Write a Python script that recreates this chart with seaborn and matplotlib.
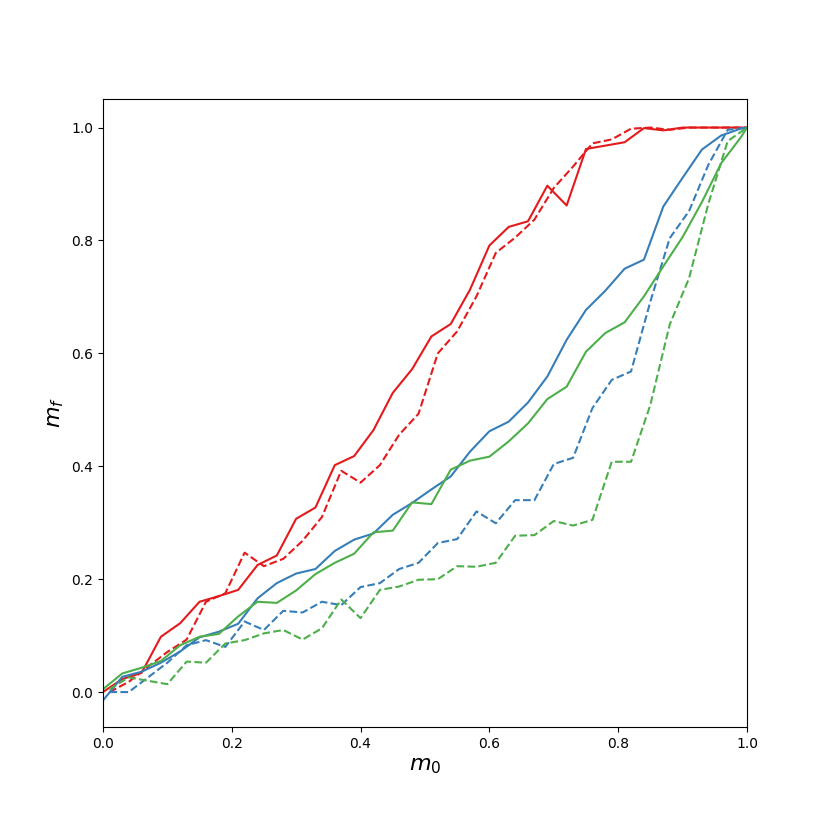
import matplotlib
matplotlib.use("Agg")
import matplotlib.pyplot as plt
import seaborn as sb

# solid curves are sampled at m0 = 0.00, 0.03, ..., 0.99, 1.00
m0_solid = [round(0.03 * i, 2) for i in range(34)] + [1.0]
# dashed curves are sampled at m0 = 0.01, 0.04, ..., 1.00
m0_dashed = [round(0.01 + 0.03 * i, 2) for i in range(34)]

red_solid = [0.000, 0.023, 0.034, 0.098, 0.122, 0.160, 0.170, 0.181, 0.225, 0.242,
             0.307, 0.327, 0.402, 0.418, 0.464, 0.530, 0.572, 0.630, 0.652, 0.713,
             0.791, 0.824, 0.834, 0.897, 0.862, 0.962, 0.968, 0.974, 0.999, 0.995,
             1.000, 1.000, 1.000, 1.000, 1.000]
blue_solid = [-0.015, 0.027, 0.036, 0.052, 0.072, 0.097, 0.107, 0.121, 0.166, 0.193,
              0.210, 0.218, 0.250, 0.270, 0.281, 0.314, 0.335, 0.359, 0.382, 0.426,
              0.462, 0.479, 0.513, 0.559, 0.624, 0.677, 0.711, 0.750, 0.766, 0.860,
              0.911, 0.961, 0.986, 0.998, 1.000]
green_solid = [0.005, 0.033, 0.043, 0.055, 0.083, 0.098, 0.103, 0.134, 0.160, 0.158,
               0.180, 0.209, 0.229, 0.245, 0.283, 0.286, 0.336, 0.333, 0.394, 0.410,
               0.417, 0.444, 0.476, 0.519, 0.541, 0.603, 0.636, 0.655, 0.701, 0.754,
               0.806, 0.868, 0.937, 0.982, 1.000]

red_dashed = [0.000, 0.018, 0.045, 0.071, 0.093, 0.160, 0.175, 0.247, 0.223, 0.236,
              0.268, 0.310, 0.392, 0.371, 0.402, 0.456, 0.493, 0.600, 0.639, 0.701,
              0.778, 0.805, 0.837, 0.893, 0.931, 0.972, 0.979, 0.998, 1.000, 0.996,
              1.000, 1.000, 1.000, 1.000]
blue_dashed = [0.000, 0.000, 0.026, 0.052, 0.083, 0.092, 0.080, 0.125, 0.110, 0.144,
               0.141, 0.160, 0.154, 0.186, 0.193, 0.218, 0.229, 0.264, 0.271, 0.320,
               0.299, 0.340, 0.340, 0.404, 0.415, 0.503, 0.553, 0.568, 0.692, 0.804,
               0.852, 0.934, 0.996, 1.000]
green_dashed = [0.005, 0.026, 0.020, 0.014, 0.054, 0.052, 0.086, 0.092, 0.104, 0.110,
                0.093, 0.113, 0.164, 0.131, 0.181, 0.187, 0.199, 0.200, 0.223, 0.222,
                0.229, 0.277, 0.278, 0.303, 0.295, 0.305, 0.408, 0.408, 0.509, 0.651,
                0.733, 0.865, 0.976, 1.000]

pal = sb.color_palette("Set1")
red, blue, green = pal[0], pal[1], pal[2]

fig, ax = plt.subplots(figsize=(8.3, 8.3), dpi=100)
fig.subplots_adjust(left=0.124, right=0.9, top=0.881, bottom=0.124)

sb.lineplot(x=m0_solid, y=red_solid, color=red, ax=ax)
sb.lineplot(x=m0_dashed, y=red_dashed, color=red, linestyle="--", ax=ax)
sb.lineplot(x=m0_solid, y=blue_solid, color=blue, ax=ax)
sb.lineplot(x=m0_dashed, y=blue_dashed, color=blue, linestyle="--", ax=ax)
sb.lineplot(x=m0_solid, y=green_solid, color=green, ax=ax)
sb.lineplot(x=m0_dashed, y=green_dashed, color=green, linestyle="--", ax=ax)

ax.set_xlim(0, 1)
ax.set_ylim(-0.062, 1.051)
ax.set_xlabel("$m_0$", fontsize=16)
ax.set_ylabel("$m_f$", fontsize=16)

fig.savefig("out.png", dpi=100)
